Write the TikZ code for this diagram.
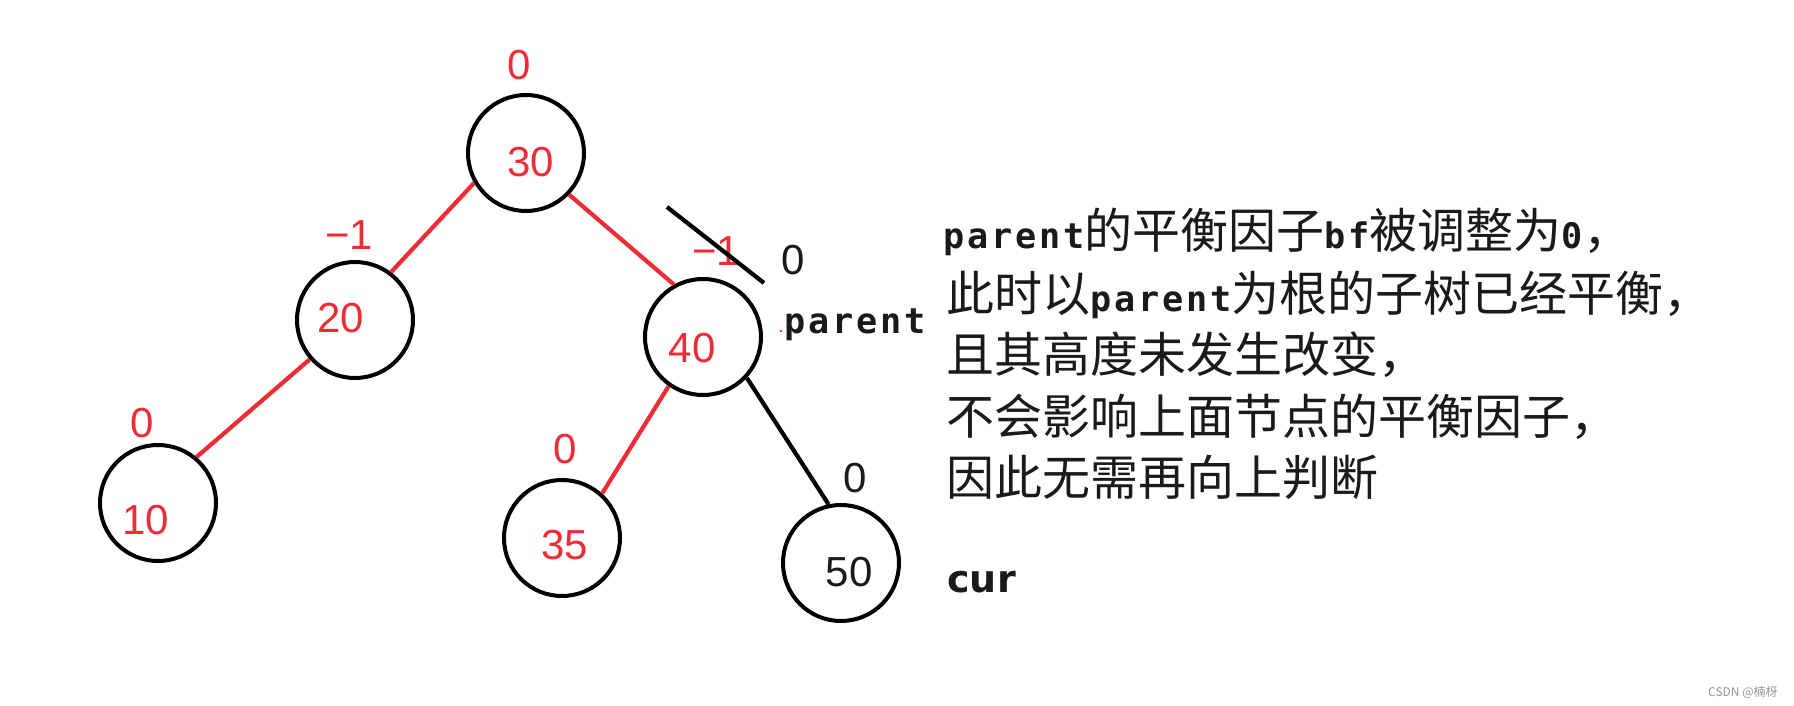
\documentclass[tikz,border=0pt]{standalone}
\usepackage{fontspec}
\setmainfont{Liberation Sans}
\newfontfamily\cjkfont{Noto Sans CJK SC}
\newfontfamily\monofont[LetterSpace=8]{DejaVu Sans Mono}
\newfontfamily\dvsans{DejaVu Sans}
\definecolor{redc}{RGB}{238,44,54}
\definecolor{inkc}{RGB}{26,26,26}
\definecolor{wmc}{RGB}{150,150,150}
\newcommand{\latpart}[1]{{\monofont\bfseries\fontsize{17.6}{20}\selectfont #1}}
\newcommand{\hanpart}[1]{{\cjkfont\fontsize{24}{26}\selectfont #1}}
\tikzset{
  circ/.style={circle,draw=black,line width=2pt,minimum size=58pt,inner sep=0pt},
  num/.style={inner sep=0pt,font=\fontsize{21}{24}\selectfont},
  rednum/.style={num,text=redc},
  blacknum/.style={num,text=inkc},
  redline/.style={draw=redc,line width=2.1pt},
  blackline/.style={draw=black,line width=2.1pt},
  txtline/.style={anchor=base west,inner sep=0pt,text=inkc},
}
\begin{document}
\begin{tikzpicture}[x=0.5pt,y=-0.5pt]
\fill[white] (0,0) rectangle (1794,706);
\useasboundingbox (0,0) rectangle (1794,706);

% circles
\node[circ] (n30) at (526,153) {};
\node[circ] (n20) at (355,320) {};
\node[circ] (n10) at (158,503) {};
\node[circ] (n40) at (703,337) {};
\node[circ] (n35) at (562,538) {};
\node[circ] (n50) at (841,563) {};

% edges
\draw[redline] (n30.210) -- (n20.53);
\draw[redline] (n30.316) -- (n40.119);
\draw[redline] (n20.221) -- (n10.50);
\draw[redline] (n40.235) -- (n35.48);
\draw[blackline] (n40.317) -- (n50.102);

% values
\node[rednum] (v30) at (531,162) {30};
\node[rednum] (v20) at (341,318) {20};
\node[rednum] (v10) at (146,520) {10};
\node[rednum] (v40) at (692,348) {40};
\node[rednum] (v35) at (565,545) {35};
\node[blacknum] (v50) at (849,572) {50};

% balance factors
\node[rednum] (b30) at (519,65) {0};
\node[rednum] (b20) at (349,235) {−1};
\node[rednum] (b10) at (142,423) {0};
\node[rednum] (b40old) at (716,251) {−1};
\node[blacknum] (b40) at (793,260) {0};
\node[rednum] (b35) at (565,449) {0};
\node[blacknum] (b50) at (855,478) {0};

% strike-out of old factor
\coordinate (s1) at (667,207);
\coordinate (s2) at (764,283);
\draw[blackline] (s1) -- (s2);

% labels
\fill[redc] (781,331) circle (0.7pt);
\node[txtline] (lparent) at (784,333) {\latpart{parent}};
\node[txtline] (lcur) at (947,592) {\dvsans\bfseries\fontsize{19}{22}\selectfont cur};

% explanation
\node[txtline] (t1) at (943,249) {\latpart{parent}\hanpart{的平衡因子}\latpart{bf}\hanpart{被调整为}\latpart{0}\hanpart{，}};
\node[txtline] (t2) at (946,311) {\hanpart{此时以}\latpart{parent}\hanpart{为根的子树已经平衡，}};
\node[txtline] (t3) at (946,372) {\hanpart{且其高度未发生改变，}};
\node[txtline] (t4) at (946,434) {\hanpart{不会影响上面节点的平衡因子，}};
\node[txtline] (t5) at (946,495) {\hanpart{因此无需再向上判断}};

% watermark
\node[anchor=east,inner sep=0pt,text=wmc,font=\cjkfont\fontsize{6}{7}\selectfont] (wm) at (1778,692) {CSDN @楠枒};
\end{tikzpicture}
\end{document}
